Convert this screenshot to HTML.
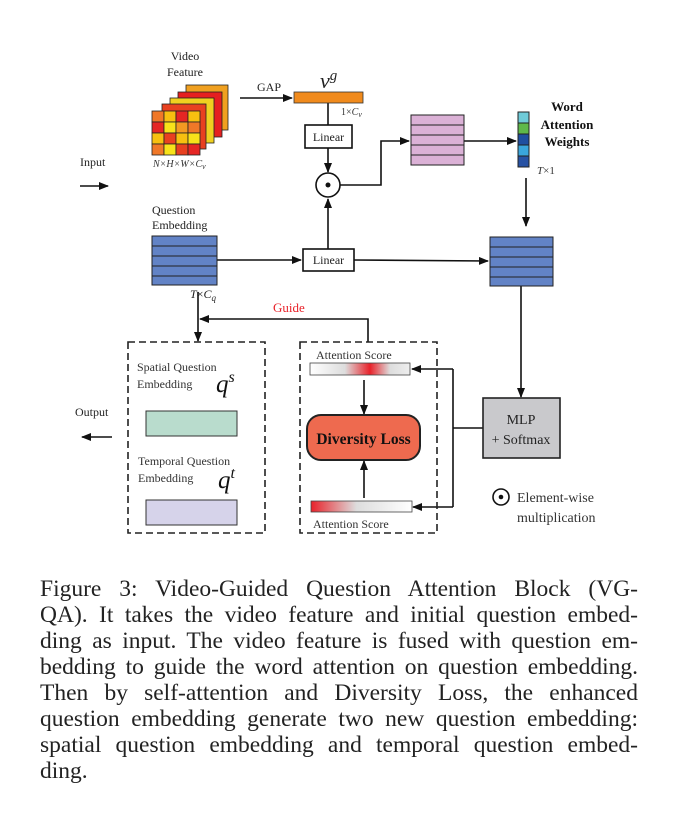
<!DOCTYPE html>
<html><head><meta charset="utf-8"><style>
body{margin:0;background:#fff;width:678px;height:820px;position:relative;overflow:hidden}
svg{position:absolute;left:0;top:0}
.cap{position:absolute;left:40px;width:598px;font-family:"Liberation Serif",serif;font-size:23.5px;color:#222;line-height:26px;top:576px}
.cap div{text-align:justify;text-align-last:justify;white-space:nowrap}
.cap div.l{text-align-last:left}
</style></head><body>
<svg width="678" height="820" viewBox="0 0 678 820" font-family="Liberation Serif, serif">
<defs>
<marker id="a" markerWidth="10" markerHeight="8" refX="9" refY="4" orient="auto" markerUnits="userSpaceOnUse"><path d="M0,0 L10,4 L0,8 z" fill="#111"/></marker>
<linearGradient id="g1" x1="0" x2="1"><stop offset="0" stop-color="#fff"/><stop offset="0.35" stop-color="#ddd"/><stop offset="0.6" stop-color="#e8222a"/><stop offset="0.8" stop-color="#ddd"/><stop offset="1" stop-color="#eee"/></linearGradient>
<linearGradient id="g2" x1="0" x2="1"><stop offset="0" stop-color="#e8222a"/><stop offset="0.45" stop-color="#ddd"/><stop offset="1" stop-color="#fff"/></linearGradient>
</defs>
<g font-size="12" fill="#222">
<text x="185" y="60" text-anchor="middle">Video</text>
<text x="185" y="76" text-anchor="middle">Feature</text>
<text x="80" y="166">Input</text>
<text x="257" y="91">GAP</text>
<text x="152" y="214">Question</text>
<text x="152" y="229">Embedding</text>
<text x="75" y="416">Output</text>
</g>
<g stroke="#222" stroke-width="0.8">
<rect x="186" y="85" width="42" height="45" fill="#f0a020"/>
<rect x="178" y="92" width="44" height="45" fill="#e52020"/>
<rect x="170" y="98" width="44" height="45" fill="#f0d020"/>
<rect x="162" y="104" width="44" height="45" fill="#e84020"/>
</g>
<g stroke="#222" stroke-width="0.8">
<rect x="152" y="111" width="12" height="11" fill="#f07828"/><rect x="164" y="111" width="12" height="11" fill="#f7c010"/><rect x="176" y="111" width="12" height="11" fill="#e52624"/><rect x="188" y="111" width="12" height="11" fill="#f7c010"/>
<rect x="152" y="122" width="12" height="11" fill="#e52624"/><rect x="164" y="122" width="12" height="11" fill="#f7e21a"/><rect x="176" y="122" width="12" height="11" fill="#f39a22"/><rect x="188" y="122" width="12" height="11" fill="#f07828"/>
<rect x="152" y="133" width="12" height="11" fill="#f7c010"/><rect x="164" y="133" width="12" height="11" fill="#e84020"/><rect x="176" y="133" width="12" height="11" fill="#f7c010"/><rect x="188" y="133" width="12" height="11" fill="#f7e21a"/>
<rect x="152" y="144" width="12" height="11" fill="#f07828"/><rect x="164" y="144" width="12" height="11" fill="#f7e21a"/><rect x="176" y="144" width="12" height="11" fill="#e84020"/><rect x="188" y="144" width="12" height="11" fill="#e52624"/>
</g>
<text x="153" y="167" font-size="10" font-style="italic" fill="#333">N×H×W×C<tspan font-size="8" dy="2">v</tspan></text>
<g stroke="#111" stroke-width="1.6" fill="none">
<line x1="80" y1="186" x2="108" y2="186" marker-end="url(#a)"/>
<line x1="240" y1="98" x2="292" y2="98" marker-end="url(#a)"/>
<line x1="328" y1="103" x2="328" y2="125"/>
<line x1="328" y1="148" x2="328" y2="172" marker-end="url(#a)"/>
<polyline points="340,185 381,185 381,141 409,141" marker-end="url(#a)"/>
<line x1="464" y1="141" x2="516" y2="141" marker-end="url(#a)"/>
<line x1="526" y1="178" x2="526" y2="226" marker-end="url(#a)"/>
<line x1="217" y1="260" x2="301" y2="260" marker-end="url(#a)"/>
<line x1="328" y1="249" x2="328" y2="199" marker-end="url(#a)"/>
<line x1="354" y1="260" x2="488" y2="261" marker-end="url(#a)"/>
<line x1="521" y1="286" x2="521" y2="397" marker-end="url(#a)"/>
<line x1="483" y1="428" x2="453" y2="428"/>
<polyline points="453,369 453,507"/>
<line x1="453" y1="369" x2="412" y2="369" marker-end="url(#a)"/>
<line x1="453" y1="507" x2="413" y2="507" marker-end="url(#a)"/>
<polyline points="368,342 368,319 200,319" marker-end="url(#a)"/>
<line x1="198" y1="292" x2="198" y2="341" marker-end="url(#a)"/>
<line x1="364" y1="380" x2="364" y2="414" marker-end="url(#a)"/>
<line x1="364" y1="498" x2="364" y2="461" marker-end="url(#a)"/>
<line x1="112" y1="437" x2="82" y2="437" marker-end="url(#a)"/>
</g>
<rect x="294" y="92" width="69" height="11" fill="#f08a1c" stroke="#333" stroke-width="0.8"/>
<text x="320" y="88" font-size="22" font-style="italic" fill="#222">v<tspan font-size="15" dy="-8">g</tspan></text>
<text x="341" y="115" font-size="10" fill="#333">1×<tspan font-style="italic">C</tspan><tspan font-size="8" dy="2" font-style="italic">v</tspan></text>
<rect x="305" y="125" width="47" height="23" fill="#fff" stroke="#111" stroke-width="1.6"/>
<text x="328.5" y="141" font-size="12" text-anchor="middle" fill="#222">Linear</text>
<rect x="303" y="249" width="51" height="22" fill="#fff" stroke="#111" stroke-width="1.6"/>
<text x="328.5" y="264" font-size="12" text-anchor="middle" fill="#222">Linear</text>
<circle cx="328" cy="185" r="12" fill="#fff" stroke="#111" stroke-width="1.6"/><circle cx="328" cy="185" r="2.5" fill="#111"/>
<g stroke="#222" stroke-width="1">
<rect x="411" y="115" width="53" height="10" fill="#dbb1d6"/><rect x="411" y="125" width="53" height="10" fill="#dbb1d6"/><rect x="411" y="135" width="53" height="10" fill="#dbb1d6"/><rect x="411" y="145" width="53" height="10" fill="#dbb1d6"/><rect x="411" y="155" width="53" height="10" fill="#dbb1d6"/>
<rect x="518" y="112" width="11" height="11" fill="#6fcbd8"/><rect x="518" y="123" width="11" height="11" fill="#5fb84a"/><rect x="518" y="134" width="11" height="11" fill="#1f4fa0"/><rect x="518" y="145" width="11" height="11" fill="#3aa6dc"/><rect x="518" y="156" width="11" height="11" fill="#2752a4"/>
<rect x="152" y="236" width="65" height="10" fill="#6283c6"/><rect x="152" y="246" width="65" height="10" fill="#6283c6"/><rect x="152" y="256" width="65" height="10" fill="#6283c6"/><rect x="152" y="266" width="65" height="10" fill="#6283c6"/><rect x="152" y="276" width="65" height="9" fill="#6283c6"/>
<rect x="490" y="237" width="63" height="10" fill="#6283c6"/><rect x="490" y="247" width="63" height="10" fill="#6283c6"/><rect x="490" y="257" width="63" height="10" fill="#6283c6"/><rect x="490" y="267" width="63" height="10" fill="#6283c6"/><rect x="490" y="277" width="63" height="9" fill="#6283c6"/>
</g>
<g font-size="13" font-weight="bold" fill="#111" text-anchor="middle">
<text x="567" y="111">Word</text><text x="567" y="129">Attention</text><text x="567" y="146">Weights</text></g>
<text x="537" y="174" font-size="11" fill="#333"><tspan font-style="italic">T</tspan>×1</text>
<text x="190" y="298" font-size="12" fill="#222"><tspan font-style="italic">T</tspan>×<tspan font-style="italic">C</tspan><tspan font-size="9" dy="3" font-style="italic">q</tspan></text>
<text x="273" y="312" font-size="13" fill="#e8222a">Guide</text>
<g stroke="#222" stroke-width="1.6" stroke-dasharray="7,4" fill="none">
<rect x="128" y="342" width="137" height="191"/>
<rect x="300" y="342" width="137" height="191"/>
</g>
<g font-size="12" fill="#333">
<text x="137" y="371">Spatial Question</text><text x="137" y="388">Embedding</text>
<text x="138" y="465">Temporal Question</text><text x="138" y="482">Embedding</text>
<text x="316" y="359">Attention Score</text>
<text x="313" y="528">Attention Score</text>
</g>
<text x="216" y="392" font-size="25" font-style="italic" fill="#111">q<tspan font-size="16" dy="-10">s</tspan></text>
<text x="218" y="488" font-size="25" font-style="italic" fill="#111">q<tspan font-size="16" dy="-10">t</tspan></text>
<rect x="146" y="411" width="91" height="25" fill="#b9dccd" stroke="#333" stroke-width="1"/>
<rect x="146" y="500" width="91" height="25" fill="#d6d3ea" stroke="#333" stroke-width="1"/>
<rect x="310" y="363" width="100" height="12" fill="url(#g1)" stroke="#444" stroke-width="0.8"/>
<rect x="311" y="501" width="101" height="11" fill="url(#g2)" stroke="#444" stroke-width="0.8"/>
<rect x="307" y="415" width="113" height="45" rx="14" fill="#ee6a4f" stroke="#222" stroke-width="2"/>
<text x="363.5" y="444" font-size="15.5" font-weight="bold" text-anchor="middle" fill="#111">Diversity Loss</text>
<rect x="483" y="398" width="77" height="60" fill="#c9c9cc" stroke="#222" stroke-width="1.6"/>
<text x="521" y="424" font-size="14" text-anchor="middle" fill="#222">MLP</text>
<text x="521" y="444" font-size="14" text-anchor="middle" fill="#222">+ Softmax</text>
<circle cx="501" cy="497" r="8" fill="#fff" stroke="#111" stroke-width="1.6"/><circle cx="501" cy="497" r="2.3" fill="#111"/>
<text x="517" y="502" font-size="14" fill="#333">Element-wise</text>
<text x="517" y="522" font-size="14" fill="#333">multiplication</text>
</svg>
<div class="cap">
<div>Figure 3: Video-Guided Question Attention Block (VG-</div>
<div>QA). It takes the video feature and initial question embed-</div>
<div>ding as input. The video feature is fused with question em-</div>
<div>bedding to guide the word attention on question embedding.</div>
<div>Then by self-attention and Diversity Loss, the enhanced</div>
<div>question embedding generate two new question embedding:</div>
<div>spatial question embedding and temporal question embed-</div>
<div class="l">ding.</div>
</div>
</body></html>
